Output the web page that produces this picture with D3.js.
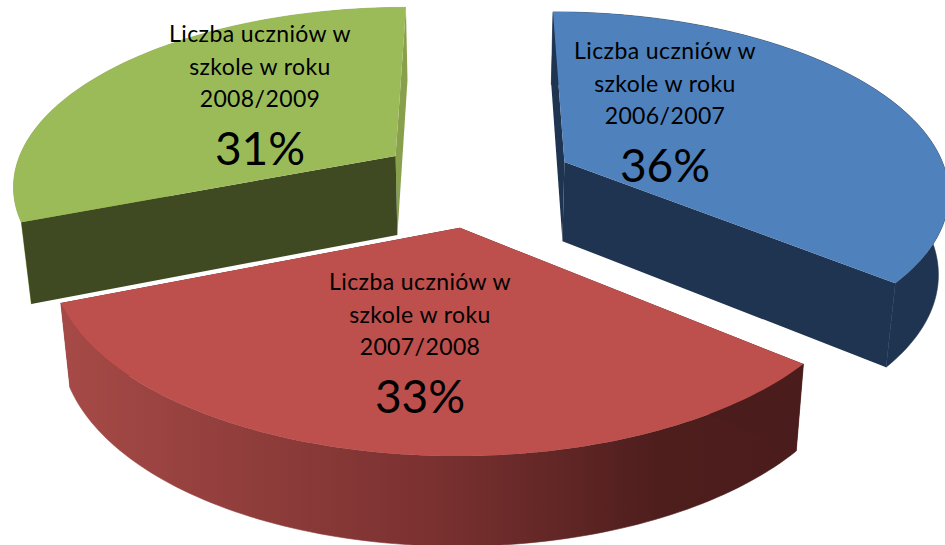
<!DOCTYPE html>
<html>
<head>
<meta charset="utf-8">
<script src="https://cdn.jsdelivr.net/npm/d3@7"></script>
<style>
  html, body { margin: 0; padding: 0; background: #fff; overflow: hidden; }
  svg { display: block; }
  text { font-family: Lato, "Open Sans", sans-serif; fill: #000; text-anchor: middle; }
</style>
</head>
<body>
<svg width="945" height="545"></svg>
<script>
const categories = ['Liczba uczniów w szkole w roku 2006/2007', 'Liczba uczniów w szkole w roku 2007/2008', 'Liczba uczniów w szkole w roku 2008/2009']
const shares = [36, 33, 31]

const topColors = ['#4f81bd', '#bd4f4c', '#9bbb59']
const startWallColors = ['#1f3450', '#4a1c1b', '#3f4a23']
const rimColors = ['#1f3450', 'url(#redSide)', '#8fa952']
const endWallColors = ['#1f3450', '#4a1c1b', '#88a04c']

// label centre x and first baseline, by hand from the picture
const labelX = [665, 420, 260]
const labelY = [59, 290, 42]
const percentY = [182, 413, 165]

// the side slices come out a bit narrower than the red one
const sliceWidth = [0.99, 1, 0.99]

const width = 945
const height = 545

// pie seen in perspective, tuned against the picture
const cx = 476
const cy = 181
const rx = 388
const ry = 178
const persp = 0.151
const explode = 0.256
const thickness = 80
const thickPersp = 0.09
const bottomShrink = 0.978

const project = (X, Y, z) => {
  const w = 1 - persp * Y
  const shrink = z ? bottomShrink : 1
  return [
    cx + X * rx / w * shrink,
    cy + Y * ry / w + (z ? thickness / (1 - thickPersp * Y) : 0),
  ]
}

const svg = d3.select('svg')
const line = d3.line()

const grad = svg.append('defs').append('linearGradient')
  .attr('id', 'redSide')
  .attr('gradientUnits', 'userSpaceOnUse')
  .attr('x1', 61).attr('x2', 805).attr('y1', 0).attr('y2', 0)
grad.append('stop').attr('offset', 0).attr('stop-color', '#a64a47')
grad.append('stop').attr('offset', 0.5).attr('stop-color', '#7a3130')
grad.append('stop').attr('offset', 0.8).attr('stop-color', '#4e1e1d')
grad.append('stop').attr('offset', 1).attr('stop-color', '#4a1c1b')

const arcs = d3.pie().sort(null).value(d => d)(shares)

const drawSlice = (i) => {
  const arc = arcs[i]
  const mid = (arc.startAngle + arc.endAngle) / 2
  const ox = explode * Math.sin(mid)
  const oy = -explode * Math.cos(mid)
  const angles = d3.range(0, 101).map(t => arc.startAngle + (arc.endAngle - arc.startAngle) * t / 100)
  const rim = (z) => angles.map(a => project(ox + sliceWidth[i] * Math.sin(a), oy - Math.cos(a), z))
  const apex = (z) => project(ox, oy, z)
  const topRim = rim(0)
  const botRim = rim(1)
  const g = svg.append('g')

  // wall along the end edge
  g.append('path')
    .attr('d', line([apex(0), topRim[100], botRim[100], apex(1)]) + 'Z')
    .attr('fill', endWallColors[i])
  // outer wall. the green one only shows as a straight sliver on the left
  const rimBottom = i === 2 ? [botRim[0]] : botRim.slice().reverse()
  g.append('path')
    .attr('d', line(topRim.concat(rimBottom)) + 'Z')
    .attr('fill', rimColors[i])
    .attr('stroke', rimColors[i])
    .attr('stroke-width', 0.6) // hides the seam between the walls
  // wall along the start edge
  g.append('path')
    .attr('d', line([apex(0), topRim[0], botRim[0], apex(1)]) + 'Z')
    .attr('fill', startWallColors[i])
  // lid
  g.append('path')
    .attr('d', line([apex(0)].concat(topRim)) + 'Z')
    .attr('fill', topColors[i])
}

const drawLabel = (i) => {
  const words = categories[i]
  const lines = [words.slice(0, 16), words.slice(17, 30), words.slice(31)]
  lines.forEach((t, n) => {
    svg.append('text')
      .attr('x', labelX[i])
      .attr('y', labelY[i] + n * 32.5)
      .attr('font-size', 23)
      .attr('letter-spacing', 0.4)
      .text(t)
  })
  svg.append('text')
    .attr('x', labelX[i])
    .attr('y', percentY[i])
    .attr('font-size', 46)
    .text(shares[i] + '%')
}

// back slices first so the red one sits in front
;[2, 0, 1].forEach(drawSlice)
;[0, 1, 2].forEach(drawLabel)
</script>
</body>
</html>
